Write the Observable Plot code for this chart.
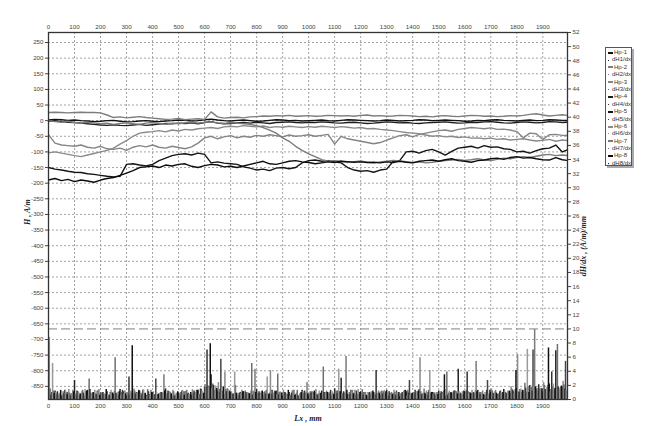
<!DOCTYPE html>
<html><head><meta charset="utf-8">
<script src="https://cdn.jsdelivr.net/npm/d3@7"></script>
<script src="https://cdn.jsdelivr.net/npm/@observablehq/plot@0.6"></script>
<style>
body{margin:0;background:#fff;}
#wrap{position:relative;width:645px;height:426px;overflow:hidden;}
#legend{position:absolute;left:605px;top:47px;width:27px;height:119px;border:1px solid #555;box-shadow:2px 2px 0 #aaa;background:#fff;font:6px "Liberation Sans",Arial,sans-serif;color:#333;padding-top:1px;box-sizing:border-box;}
.li{height:7.4px;line-height:7.4px;white-space:nowrap;display:flex;align-items:center;}
.sw{display:inline-block;width:4px;margin:0 2px 0 2px;}
</style></head>
<body><div id="wrap"><div id="chart"></div><div id="legend"></div></div>
<script>
// ---- data ----
const hpNames = ["Hp-1","Hp-2","Hp-3","Hp-4","Hp-5","Hp-6","Hp-7","Hp-8"];
const dhNames = ["dH1/dx","dH2/dx","dH3/dx","dH4/dx","dH5/dx","dH6/dx","dH7/dx","dH8/dx"];
const hpColors = ["#111","#7d7d7d","#858585","#1e1e1e","#151515","#8a8a8a","#7a7a7a","#0d0d0d"];
const dhColors = ["#222","#8a8a8a","#6e6e6e","#333","#444","#9a9a9a","#7a7a7a","#111"];
const sampleStep = 25; // mm between samples, Lx = 0..2000
const xTicks = [0,100,200,300,400,500,600,700,800,900,1000,1100,1200,1300,1400,1500,1600,1700,1800,1900];
const leftTicks = [250,200,150,100,50,0,-50,-100,-150,-200,-250,-300,-350,-400,-450,-500,-550,-600,-650,-700,-750,-800,-850];
const rightTicks = [0,2,4,6,8,10,12,14,16,18,20,22,24,26,28,30,32,34,36,38,40,42,44,46,48,50,52];
const threshold = [10];

const hp1 = [2,4,3,1,2,0,-1,-3,-2,0,1,-2,-4,-3,-1,0,-2,-3,-1,0,2,
 1,-1,0,3,5,2,0,-1,1,2,0,-2,-1,1,3,2,0,1,-1,0,
 1,2,0,-1,1,3,2,1,0,-1,0,2,1,-1,0,1,3,2,0,1,
 2,1,0,-2,-1,1,0,2,3,1,0,-1,1,2,0,1,3,2,1,0];
const hp2 = [26,27,26,25,26,27,26,26,25,18,10,12,9,11,13,10,8,6,4,5,7,3,5,6,4,28,12,8,10,11,9,12,13,
 15,14,16,15,17,14,15,16,14,15,17,16,15,16,14,17,18,15,16,14,15,17,16,15,
 13,14,12,15,16,14,13,15,17,16,14,15,13,14,16,15,17,20,22,18,15,17,19,16];
const hp3 = [-45,-72,-78,-80,-82,-78,-85,-88,-82,-90,
 -92,-88,-95,-85,-80,-84,-78,-85,-88,-82,
 -86,-90,-84,-72,-55,-50,-58,-52,-48,-55,
 -50,-53,-47,-50,-45,-48,-52,-46,-50,-48,
 -45,-50,-47,-44,-75,-50,-58,-62,-66,-70,
 -74,-70,-62,-55,-48,-45,-52,-44,-40,-36,
 -32,-30,-34,-28,-25,-22,-24,-26,-23,-28,
 -27,-30,-35,-55,-40,-42,-60,-45,-44,-47,-48];
const hp4 = [-2,0,-3,-5,-6,-8,-10,-12,-14,-15,-13,-15,-16,-14,-12,-15,-13,-11,-9,-10,-8,
 -9,-7,-10,-6,-3,-8,-10,-9,-7,-6,-8,-5,-7,-9,-6,-5,-4,-6,-7,-5,
 -6,-4,-5,-7,-8,-6,-5,-7,-9,-8,-6,-4,-5,-7,-6,-8,-9,-7,-6,-5,
 -4,-6,-8,-7,-5,-6,-4,-3,-5,-7,-8,-6,-4,-5,-7,-6,-3,-4,-6,-5];
const hp5 = [-150,-155,-158,-162,-165,-166,-170,-172,-175,-178,
 -180,-178,-140,-138,-142,-145,-140,-128,-120,-112,
 -108,-106,-110,-104,-108,-135,-132,-136,-138,-140,
 -148,-152,-158,-155,-160,-152,-150,-154,-150,-135,
 -128,-126,-130,-128,-132,-135,-150,-158,-162,-160,
 -165,-158,-155,-130,-128,-100,-98,-104,-96,-92,
 -100,-110,-98,-88,-85,-82,-88,-80,-85,-84,
 -90,-92,-100,-98,-104,-96,-90,-88,-78,-100,-92];
const hp6 = [-103,-100,-104,-108,-112,-115,-110,-105,-100,-95,
 -88,-75,-64,-50,-40,-37,-35,-32,-36,-30,
 -33,-28,-30,-26,-24,-22,-25,-20,-18,-20,
 -16,-18,-20,-17,-22,-19,-21,-18,-20,-22,
 -19,-21,-18,-20,-22,-19,-21,-24,-22,-26,
 -25,-28,-30,-32,-35,-38,-40,-42,-46,-50,
 -48,-52,-50,-54,-52,-56,-55,-58,-56,-60,
 -58,-62,-60,-58,-62,-65,-63,-60,-66,-62,-64];
const hp7 = [0,-3,-5,-2,-6,-8,-5,-7,-10,-8,
 -12,-9,-7,-10,-12,-8,-6,-9,-11,-8,
 -10,-7,-5,-8,-6,-4,-7,-9,-6,-8,
 -10,-12,-16,-22,-30,-40,-55,-66,-82,-95,
 -106,-115,-125,-130,-128,-130,-134,-131,-129,-133,
 -135,-132,-130,-127,-129,-131,-134,-132,-135,-133,
 -130,-128,-126,-124,-127,-125,-122,-126,-128,-124,
 -120,-122,-118,-115,-118,-114,-110,-108,-112,-110,-112];
const hp8 = [-190,-185,-192,-188,-195,-190,-193,-197,-190,-185,
 -182,-175,-168,-160,-150,-148,-145,-150,-142,-145,
 -140,-138,-146,-150,-144,-140,-142,-148,-146,-150,
 -145,-140,-135,-130,-138,-140,-135,-130,-128,-132,
 -134,-138,-135,-132,-134,-130,-131,-133,-132,-134,
 -133,-135,-132,-134,-130,-133,-135,-130,-128,-126,
 -130,-125,-122,-128,-130,-133,-128,-126,-122,-120,
 -124,-118,-115,-120,-118,-122,-125,-126,-118,-125,-128];

const dh1 = [0.8,1.2,0.5,1.0,2.7,0.6,1.3,0.4,0.9,1.1, 0.7,1.4,0.5,0.9,1.2,0.6,1.0,0.8,1.5,0.4,
 0.9,1.1,0.6,1.3,1.8,3.5,1.2,0.7,1.0,0.5, 1.1,0.8,1.4,0.6,0.9,1.2,0.5,1.0,0.7,1.3,
 0.6,1.0,1.2,0.8,1.5,3.0,0.7,0.9,1.1,0.5, 1.0,0.6,1.3,0.8,0.4,1.1,0.9,1.4,0.7,1.0,
 1.2,0.5,0.9,4.3,1.1,0.8,1.3,0.6,1.0,0.7, 1.4,0.9,1.6,1.2,2.0,1.5,1.1,2.2,6.9,1.8,1.0];
const dh2 = [8.8,1.0,0.6,1.4,0.8,1.1,0.5,1.3,0.9,0.7, 1.2,0.6,1.0,1.5,0.8,0.4,1.1,0.9,0.6,1.3,
 0.8,1.0,1.4,0.7,2.1,1.6,2.4,3.9,1.1,0.9, 0.6,1.2,0.8,1.0,4.1,0.7,1.3,0.5,0.9,1.1,
 0.8,1.4,0.6,1.0,1.2,0.9,0.5,1.3,0.7,1.0, 0.6,1.1,0.9,1.3,0.8,0.5,1.0,5.9,1.2,0.7,
 0.9,1.4,0.6,1.1,0.8,1.3,0.7,1.0,1.5,0.6, 1.2,1.8,6.4,1.3,2.0,1.6,2.4,1.1,1.9,2.6,1.2];
const dh3 = [1.5,0.7,1.1,0.9,0.6,1.3,2.9,0.8,1.0,0.5, 5.9,1.0,0.7,1.2,0.9,1.4,0.6,1.0,0.8,1.1,
 0.5,1.3,0.9,0.7,1.7,2.2,1.0,1.4,0.8,0.6, 1.2,5.1,0.9,1.1,0.7,3.6,1.0,0.6,1.3,0.8,
 1.1,0.7,4.6,0.9,1.2,0.8,1.0,0.6,1.4,0.9, 0.7,1.2,0.5,1.0,0.8,1.3,0.9,1.1,0.6,1.0,
 0.8,3.9,1.1,0.7,1.3,0.9,1.0,0.6,1.2,0.8, 1.0,1.5,1.1,2.3,1.7,1.2,2.0,1.4,7.8,2.1,1.3];
const dh4 = [0.6,1.1,0.8,0.5,1.2,0.9,1.4,0.7,1.0,0.6, 0.9,1.3,3.2,0.8,0.6,1.1,0.7,1.0,1.2,0.5,
 1.0,0.8,1.2,1.5,7.0,2.0,1.4,1.1,0.7,0.9, 1.0,0.6,1.1,0.8,1.3,0.7,1.0,0.9,0.5,1.2,
 0.9,0.6,1.0,1.3,0.8,1.1,0.7,1.2,0.6,1.0, 4.1,0.8,1.1,0.6,1.0,0.9,1.3,0.7,1.0,0.8,
 1.1,0.6,1.2,0.9,3.9,1.0,0.7,1.3,0.8,1.1, 0.9,1.3,1.0,1.6,1.2,2.1,1.4,3.9,1.8,1.5,0.9];
const dh5 = [1.0,0.6,1.3,0.8,1.1,0.5,0.9,1.2,0.7,1.0, 0.8,1.1,0.6,1.0,1.3,0.7,2.9,0.9,1.1,0.6,
 1.2,0.9,1.0,1.4,1.9,1.3,5.7,1.5,0.8,1.0, 0.7,1.1,0.9,1.3,0.6,1.0,0.8,1.2,0.5,0.9,
 1.1,0.8,1.0,0.6,1.2,0.9,1.3,0.7,1.0,0.8, 0.6,1.1,0.9,1.2,0.7,2.7,1.0,0.8,1.3,0.6,
 1.0,0.9,1.2,0.7,1.1,0.8,1.0,2.7,0.9,1.2, 0.7,1.1,1.4,1.0,7.0,1.5,1.2,1.8,1.3,5.4,1.1];
const dh6 = [5.1,0.9,1.2,0.7,1.0,1.4,0.6,1.1,0.8,1.3, 1.0,0.7,1.2,0.9,1.4,0.6,1.0,0.8,1.1,0.9,
 1.3,0.7,1.0,1.2,1.6,1.9,1.1,1.4,3.9,0.8, 1.0,1.2,0.7,3.2,0.9,1.1,0.6,1.3,0.8,1.0,
 0.7,1.2,0.9,1.1,4.3,0.8,1.0,1.4,0.6,1.1, 0.9,1.3,0.7,1.0,1.2,0.6,1.1,0.9,4.1,1.0,
 0.7,1.2,0.9,1.1,0.8,1.3,1.0,0.6,1.1,0.9, 1.2,0.8,1.5,7.1,1.9,1.4,1.7,2.2,1.6,1.3,1.0];
const dh7 = [1.2,0.8,1.0,1.3,0.6,1.1,0.9,1.4,0.7,1.0, 0.6,1.2,0.9,1.0,0.8,1.3,0.7,3.5,1.0,0.9,
 1.1,0.7,1.3,0.9,1.8,1.5,1.2,1.0,2.0,1.3, 0.9,4.3,1.1,0.8,1.2,1.0,0.7,1.3,0.9,2.4,
 1.0,0.8,1.2,0.9,1.1,6.1,1.3,0.7,1.0,0.9, 1.2,0.8,1.0,0.7,1.3,0.9,1.1,1.5,0.8,1.0,
 1.2,0.9,1.1,0.7,1.0,5.4,1.2,0.8,1.3,0.9, 1.1,1.4,1.0,1.8,9.9,1.6,2.0,1.3,1.7,1.2,0.8];
const dh8 = [0.9,1.3,0.7,1.1,0.8,1.2,1.0,0.6,1.4,0.9, 1.1,0.8,7.6,1.3,0.9,1.0,0.7,1.2,0.8,1.1,
 0.6,1.0,1.3,0.9,7.9,1.6,1.8,1.2,0.9,1.1, 0.8,1.0,1.2,0.7,1.1,0.9,1.3,0.6,1.0,0.8,
 1.2,0.9,1.0,0.7,1.1,1.3,0.8,1.0,0.6,1.2, 0.9,1.1,0.7,1.0,1.3,0.8,1.2,0.9,1.0,0.7,
 3.5,1.0,0.8,1.2,0.9,1.1,0.7,1.3,0.9,1.0, 1.2,4.1,1.3,1.0,1.8,1.5,7.3,1.6,1.9,1.4,1.1];

const hpSeries = [hp1,hp2,hp3,hp4,hp5,hp6,hp7,hp8];
const dhSeries = [dh1,dh2,dh3,dh4,dh5,dh6,dh7,dh8];

// ---- scales: left axis H (A/m), right axis dH/dx mapped onto it ----
const yMin = -892, yMax = 282, rMax = 52;
const toH = v => yMin + v * (yMax - yMin) / rMax;
const fromH = h => (h - yMin) * rMax / (yMax - yMin);

const hpRows = hpSeries.flatMap((arr, k) => arr.map((v, i) => ({x: i * sampleStep, h: v, s: hpNames[k], c: hpColors[k]})));
const dhRows = dhSeries.flatMap((arr, k) => arr.map((v, i) => ({x: i * sampleStep + k * sampleStep / 8, b: yMin, h: toH(v), c: dhColors[k]})));

const fmt = d => String(d);
const chart = Plot.plot({
  width: 645, height: 426,
  marginLeft: 48, marginRight: 78, marginTop: 32, marginBottom: 27,
  style: {fontFamily: '"Liberation Sans", Arial, sans-serif', fontSize: "6.2px", color: "#444", background: "#fff"},
  x: {domain: [0, 1995], label: null},
  y: {domain: [yMin, yMax], label: null},
  color: {type: "identity"},
  marks: [
    Plot.gridX(xTicks, {stroke: "#999", strokeOpacity: 0.9, strokeDasharray: "2,2"}),
    Plot.gridY(leftTicks, {stroke: "#999", strokeOpacity: 0.9, strokeDasharray: "2,2"}),
    Plot.ruleY(threshold.map(toH), {stroke: "#808080", strokeDasharray: "9,4", strokeWidth: 1}),
    Plot.ruleX(dhRows, {x: "x", y1: "b", y2: "h", stroke: "c", strokeWidth: 1.5, clip: true}),
    Plot.line(hpRows, {x: "x", y: "h", z: "s", stroke: "c", strokeWidth: 1.4, clip: true}),
    Plot.frame({stroke: "#333", strokeWidth: 1.3}),
    Plot.axisX(xTicks, {anchor: "top", tickSize: 0, tickPadding: 4, tickFormat: fmt, label: null}),
    Plot.axisX(xTicks, {anchor: "bottom", tickSize: 0, tickPadding: 4, tickFormat: fmt, label: null}),
    Plot.axisY(leftTicks, {anchor: "left", tickSize: 3, tickPadding: 2, tickFormat: fmt, label: null}),
    Plot.axisY(rightTicks.map(toH), {anchor: "right", tickSize: 3, tickPadding: 2, tickFormat: d => String(Math.round(fromH(d))), label: null}),
    Plot.text(["H , A/m"], {text: d => d, frameAnchor: "left", dx: -21, dy: 9, rotate: -90, fontFamily: '"Liberation Serif", serif', fontStyle: "italic", fontWeight: "bold", fontSize: 8, fill: "#222"}),
    Plot.text(["dH/dx , (A/m)/mm"], {text: d => d, frameAnchor: "right", dx: 16, dy: 0, rotate: -90, fontFamily: '"Liberation Serif", serif', fontStyle: "italic", fontWeight: "bold", fontSize: 8, fill: "#222"}),
    Plot.text(["Lx , mm"], {text: d => d, frameAnchor: "bottom", dy: 21, fontFamily: '"Liberation Serif", serif', fontStyle: "italic", fontWeight: "bold", fontSize: 8, fill: "#222"})
  ]
});
document.getElementById("chart").append(chart);

// legend
const leg = document.getElementById("legend");
hpNames.forEach((n, k) => {
  [[n, hpColors[k], 2], [dhNames[k], dhColors[k], 1]].forEach(([label, col, w]) => {
    const row = document.createElement("div"); row.className = "li";
    const sw = document.createElement("span"); sw.className = "sw";
    sw.style.borderTop = w + "px solid " + col;
    sw.style.width = w === 2 ? "5px" : "3px";
    sw.style.marginRight = w === 2 ? "1px" : "3px";
    row.append(sw, document.createTextNode(label));
    leg.append(row);
  });
});
</script>
</body></html>
